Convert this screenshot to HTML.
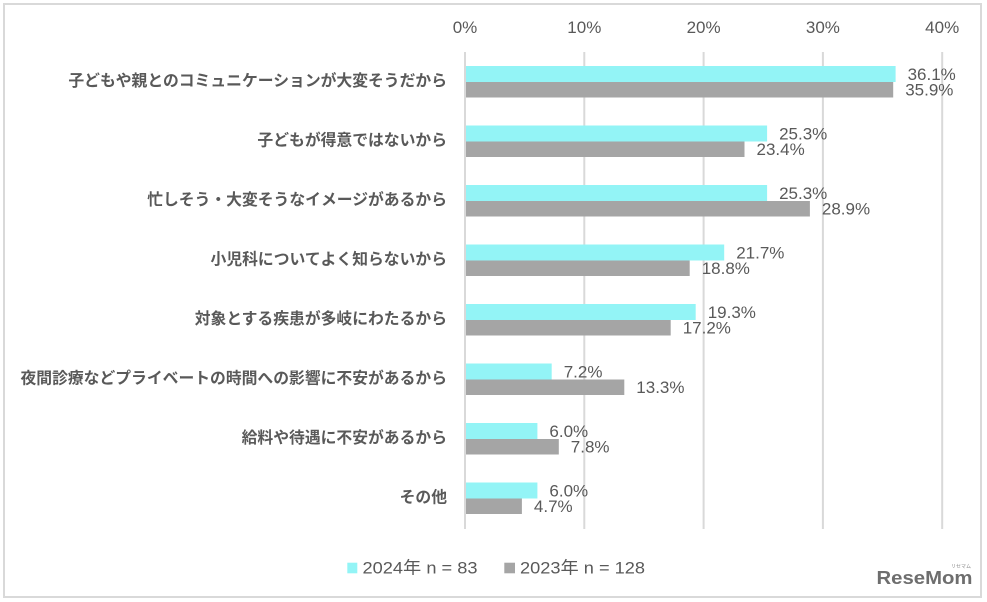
<!DOCTYPE html>
<html>
<head>
<meta charset="utf-8">
<style>
  html,body{margin:0;padding:0;background:#fff;}
  svg{display:block;}
  .num{font-family:"Liberation Sans","Noto Sans CJK JP",sans-serif;font-size:17px;fill:#595959;}
  .cat{font-family:"Liberation Sans","Noto Sans CJK JP",sans-serif;font-size:15.8px;font-weight:bold;fill:#595959;}
</style>
</head>
<body>
<svg width="987" height="602" viewBox="0 0 987 602" xmlns="http://www.w3.org/2000/svg">
  <rect x="0" y="0" width="987" height="602" fill="#fff"/>
  <rect x="4" y="4" width="977" height="593" fill="#fff" stroke="#D9D9D9" stroke-width="2"/>

  <!-- gridlines -->
  <g stroke="#D9D9D9" stroke-width="2">
    <line x1="465" y1="52" x2="465" y2="529"/>
    <line x1="584.3" y1="52" x2="584.3" y2="529"/>
    <line x1="703.6" y1="52" x2="703.6" y2="529"/>
    <line x1="822.9" y1="52" x2="822.9" y2="529"/>
    <line x1="942.2" y1="52" x2="942.2" y2="529"/>
  </g>

  <!-- axis labels -->
  <g class="num" text-anchor="middle">
    <text x="465" y="33">0%</text>
    <text x="584.3" y="33">10%</text>
    <text x="703.6" y="33">20%</text>
    <text x="822.9" y="33">30%</text>
    <text x="942.2" y="33">40%</text>
  </g>

  <!-- category labels -->
  <g class="cat" text-anchor="end">
    <text x="447" y="86">子どもや親とのコミュニケーションが大変そうだから</text>
    <text x="447" y="145.5">子どもが得意ではないから</text>
    <text x="447" y="205">忙しそう・大変そうなイメージがあるから</text>
    <text x="447" y="264.5">小児科についてよく知らないから</text>
    <text x="447" y="324">対象とする疾患が多岐にわたるから</text>
    <text x="447" y="383.5">夜間診療などプライベートの時間への影響に不安があるから</text>
    <text x="447" y="443">給料や待遇に不安があるから</text>
    <text x="447" y="502.5">その他</text>
  </g>

  <!-- bars -->
  <g fill="#93F4F6">
    <rect x="466" y="66" width="429.6" height="16"/>
    <rect x="466" y="125.5" width="301.1" height="16"/>
    <rect x="466" y="185" width="301.1" height="16"/>
    <rect x="466" y="244.5" width="258.2" height="16"/>
    <rect x="466" y="304" width="229.7" height="16"/>
    <rect x="466" y="363.5" width="85.7" height="16"/>
    <rect x="466" y="423" width="71.4" height="16"/>
    <rect x="466" y="482.5" width="71.4" height="16"/>
  </g>
  <g fill="#A5A5A5">
    <rect x="466" y="82" width="427.2" height="15.5"/>
    <rect x="466" y="141.5" width="278.5" height="15.5"/>
    <rect x="466" y="201" width="343.9" height="15.5"/>
    <rect x="466" y="260.5" width="223.7" height="15.5"/>
    <rect x="466" y="320" width="204.7" height="15.5"/>
    <rect x="466" y="379.5" width="158.3" height="15.5"/>
    <rect x="466" y="439" width="92.8" height="15.5"/>
    <rect x="466" y="498.5" width="55.9" height="15.5"/>
  </g>

  <!-- value labels -->
  <g class="num">
    <text x="907.6" y="80">36.1%</text>
    <text x="905.2" y="95.5">35.9%</text>
    <text x="779.1" y="139.5">25.3%</text>
    <text x="756.5" y="155">23.4%</text>
    <text x="779.1" y="199">25.3%</text>
    <text x="821.9" y="214.5">28.9%</text>
    <text x="736.2" y="258.5">21.7%</text>
    <text x="701.7" y="274">18.8%</text>
    <text x="707.7" y="318">19.3%</text>
    <text x="682.7" y="333.5">17.2%</text>
    <text x="563.7" y="377.5">7.2%</text>
    <text x="636.3" y="393">13.3%</text>
    <text x="549.4" y="437">6.0%</text>
    <text x="570.8" y="452.5">7.8%</text>
    <text x="549.4" y="496.5">6.0%</text>
    <text x="533.9" y="512">4.7%</text>
  </g>

  <!-- legend -->
  <rect x="347.3" y="562.7" width="10" height="10.6" fill="#93F4F6"/>
  <text class="num" x="362.5" y="573.3" textLength="115" lengthAdjust="spacingAndGlyphs">2024年 n = 83</text>
  <rect x="504.3" y="562.7" width="10.7" height="10.6" fill="#A5A5A5"/>
  <text class="num" x="520" y="573.3" textLength="125" lengthAdjust="spacingAndGlyphs">2023年 n = 128</text>

  <!-- logo -->
  <text x="876.5" y="584" font-family="Liberation Sans, sans-serif" font-weight="bold" font-size="18" fill="#6e6e6e" textLength="96" lengthAdjust="spacingAndGlyphs">ReseMom</text>
  <text x="951" y="568" font-family="Liberation Sans, Noto Sans CJK JP, sans-serif" font-size="5" fill="#8a8a8a">リセマム</text>
</svg>
</body>
</html>
